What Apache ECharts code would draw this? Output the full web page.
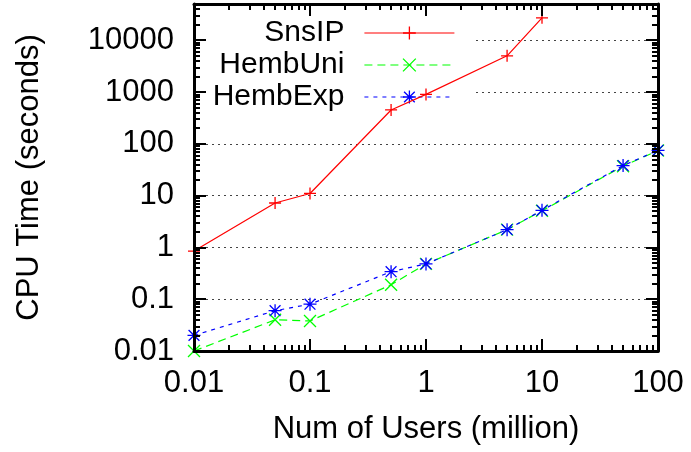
<!DOCTYPE html>
<html>
<head>
<meta charset="utf-8">
<script src="https://cdn.jsdelivr.net/npm/echarts@6/dist/echarts.min.js"></script>
<style>
  html, body { margin: 0; padding: 0; background: #fff; }
  #chart { width: 691px; height: 452px; }
</style>
</head>
<body>
<div id="chart"></div>
<script>
// Problem sizes (million users) and CPU times in seconds
const users = [0.01, 0.05, 0.1, 0.5, 1, 5, 10, 50, 100];
const snsIP = [0.85, 7.2, 11, 450, 900, 5000, 27000];
const hembUni = [0.01, 0.04, 0.038, 0.19, 0.48, 2.2, 5.1, 37, 74];
const hembExp = [0.02, 0.06, 0.08, 0.34, 0.48, 2.2, 5.2, 38, 75];

// Axis ticks
const xTicks = [0.01, 0.1, 1, 10, 100];
const xTickLabels = ['0.01', '0.1', '1', '10', '100'];
const yTicks = [0.01, 0.1, 1, 10, 100, 1000, 10000];
const yTickLabels = ['0.01', '0.1', '1', '10', '100', '1000', '10000'];
const yGridValues = [0.1, 1, 10, 100, 1000, 10000];
const minorMantissas = [2, 3, 4, 5, 6, 7, 8, 9];

const X_MIN = 0.01, X_MAX = 100;
const Y_MIN = 0.01, Y_MAX = 50000;

const FONT = 'Liberation Sans';
const FONT_SIZE = 31;
const KEY_FONT_SIZE = 30;

const RED = '#ff0000', GREEN = '#00ff00', BLUE = '#0000ff';
const DASH_UNI = [8, 5], DASH_EXP = [4, 5];

function minorValues(lo, hi) {
  const out = [];
  for (let e = Math.floor(Math.log10(lo)); e <= Math.ceil(Math.log10(hi)); e++) {
    for (const m of minorMantissas) {
      const v = +(m * Math.pow(10, e)).toPrecision(6);
      if (v > lo && v <= hi) out.push(v);
    }
  }
  return out;
}

function labelFor(v, ticks, labels) {
  const i = ticks.findIndex(t => Math.abs(Math.log10(t) - Math.log10(v)) < 1e-6);
  return i >= 0 ? labels[i] : '';
}

const pairs = (xs, ys) => ys.map((y, i) => [xs[i], y]);

// Stroked marker shapes
const PLUS = 'path://M0,6L12,6M6,0L6,12';
const CROSS = 'path://M0,0L12,12M12,0L0,12';
const STAR = 'path://M0,6L12,6M6,0L6,12M1,1L11,11M11,1L1,11';

function axis(opts) {
  const { dir, position, min, max, major, minor, showLine, labels, z, name, nameGap } = opts;
  const ticks = minor ? minorValues(min, max) : major;
  const a = {
    type: 'log', logBase: 10, min, max, position, z,
    axisLine: { show: !!showLine, onZero: false, lineStyle: { color: '#000', width: 3 } },
    axisTick: {
      show: true, inside: true, length: minor ? 6 : 12,
      customValues: ticks,
      lineStyle: { color: '#000', width: 2 }
    },
    minorTick: { show: false },
    splitLine: { show: false },
    axisLabel: { show: false }
  };
  if (labels) {
    a.axisLabel = {
      show: true,
      customValues: major,
      formatter: v => labelFor(v, major, labels),
      fontFamily: FONT, fontSize: FONT_SIZE, color: '#000',
      margin: dir === 'x' ? 17 : 20,
      hideOverlap: false
    };
  }
  if (name) {
    a.name = name;
    a.nameLocation = 'middle';
    a.nameGap = nameGap;
    a.nameTextStyle = { fontFamily: FONT, fontSize: FONT_SIZE, color: '#000' };
  }
  return a;
}

const xAxes = [
  axis({ dir: 'x', position: 'bottom', min: X_MIN, max: X_MAX, major: xTicks, showLine: true, labels: xTickLabels, z: 3, name: 'Num of Users (million)', nameGap: 63 }),
  axis({ dir: 'x', position: 'bottom', min: X_MIN, max: X_MAX, minor: true, z: 3 }),
  axis({ dir: 'x', position: 'top', min: X_MIN, max: X_MAX, major: xTicks, showLine: true, z: 3 }),
  axis({ dir: 'x', position: 'top', min: X_MIN, max: X_MAX, minor: true, z: 3 })
];

const yAxes = [
  axis({ dir: 'y', position: 'left', min: Y_MIN, max: Y_MAX, major: yTicks, showLine: true, labels: yTickLabels, z: 3, name: 'CPU Time (seconds)', nameGap: 149 }),
  axis({ dir: 'y', position: 'left', min: Y_MIN, max: Y_MAX, minor: true, z: 3 }),
  axis({ dir: 'y', position: 'right', min: Y_MIN, max: Y_MAX, major: yTicks, showLine: true, z: 3 }),
  axis({ dir: 'y', position: 'right', min: Y_MIN, max: Y_MAX, minor: true, z: 3 }),
  // dotted horizontal grid at the decades, kept beneath the key box
  {
    type: 'log', logBase: 10, min: Y_MIN, max: Y_MAX, position: 'left', z: 0,
    axisLine: { show: false, onZero: false },
    axisTick: { show: false, customValues: yGridValues },
    axisLabel: { show: false },
    minorTick: { show: false },
    splitLine: { show: true, lineStyle: { color: '#444', width: 1, type: [2, 4] } }
  }
];

function lineSeries(name, data, color, dash, symbol, size) {
  return {
    name, type: 'line', data, z: 2, clip: false,
    xAxisIndex: 0, yAxisIndex: 0,
    symbol, symbolSize: size, showSymbol: true,
    lineStyle: { color, width: 1.2, type: dash },
    itemStyle: { color, borderColor: color, borderWidth: 1.3 },
    emphasis: { disabled: true },
    animation: false
  };
}

const chart = echarts.init(document.getElementById('chart'), null, { renderer: 'canvas' });
chart.setOption({
  animation: false,
  backgroundColor: '#fff',
  grid: { left: 194, right: 33, top: 4, bottom: 101, containLabel: false },
  xAxis: xAxes,
  yAxis: yAxes,
  legend: {
    orient: 'vertical', align: 'right',
    right: 218, top: 12,
    itemWidth: 90, itemHeight: 16, itemGap: 2,
    padding: [6, 18, 2, 20],
    backgroundColor: '#fff',
    z: 1,
    selectedMode: false,
    textStyle: { fontFamily: FONT, fontSize: KEY_FONT_SIZE, color: '#000', padding: [0, 15, 0, 0] },
    itemStyle: { borderWidth: 1.3 },
    lineStyle: { width: 1.2 },
    data: ['SnsIP', 'HembUni', 'HembExp']
  },
  series: [
    lineSeries('SnsIP', pairs(users, snsIP), RED, 'solid', PLUS, 12),
    lineSeries('HembUni', pairs(users, hembUni), GREEN, DASH_UNI, CROSS, 12),
    lineSeries('HembExp', pairs(users, hembExp), BLUE, DASH_EXP, STAR, 13)
  ]
});
</script>
</body>
</html>
